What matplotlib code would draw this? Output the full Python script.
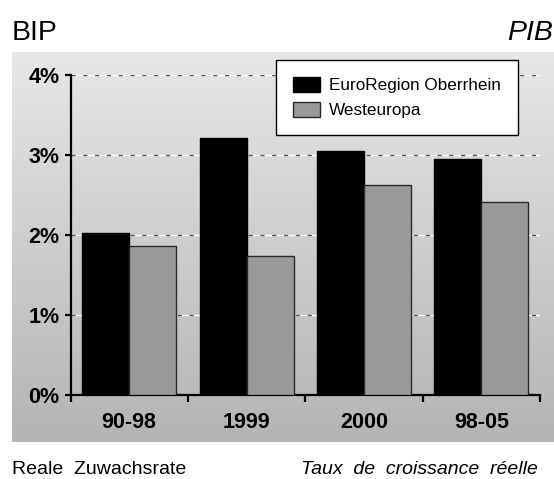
import numpy as np
import matplotlib
matplotlib.use('Agg')
import matplotlib.pyplot as plt
from matplotlib.colors import LinearSegmentedColormap

categories = ['90-98', '1999', '2000', '98-05']
euro = [2.03, 3.21, 3.05, 2.95]
west = [1.86, 1.74, 2.62, 2.41]
yticks = [0, 1, 2, 3, 4]
ytick_labels = ['0%', '1%', '2%', '3%', '4%']
series_names = ['EuroRegion Oberrhein', 'Westeuropa']

plt.rcParams['font.family'] = ['Liberation Sans', 'DejaVu Sans']

W, H = 554, 479
fig = plt.figure(figsize=(W / 100, H / 100), dpi=100)
fig.patch.set_facecolor('white')

# gradient panel background
bg = fig.add_axes([12 / W, (H - 442) / H, (W - 12 + 6) / W, (442 - 52) / H])
grad = np.linspace(0, 1, 256).reshape(-1, 1)
cmap = LinearSegmentedColormap.from_list('g', ['#e7e7e7', '#b4b4b4'])
bg.imshow(grad, aspect='auto', cmap=cmap, extent=[0, 1, 0, 1], origin='upper')
bg.axis('off')

ax = fig.add_axes([70.5 / W, (H - 395) / H, (540 - 70.5) / W, (395 - 75) / H])
ax.set_facecolor('none')

x = np.arange(len(categories))
w = 0.4
ax.bar(x - w / 2, euro, w, color='black', edgecolor='black', lw=1, zorder=3, label=series_names[0])
ax.bar(x + w / 2, west, w, color='#999999', edgecolor='#2a2a2a', lw=1, zorder=3, label=series_names[1])

for yv in yticks[1:]:
    ax.axhline(yv, color='white', lw=1, zorder=1)
    ax.axhline(yv, color='#555555', lw=1, dashes=(3, 5.5), zorder=2)

ax.set_xlim(-0.5, len(categories) - 0.5)
ax.set_ylim(0, 4)
for s in ['top', 'right']:
    ax.spines[s].set_visible(False)
for s in ['left', 'bottom']:
    ax.spines[s].set_linewidth(1.6)
    ax.spines[s].set_color('black')

ax.set_yticks(yticks, ytick_labels)
ax.tick_params(axis='y', direction='out', length=4, width=1.6, pad=4,
               labelsize=15.5)
for t in ax.get_yticklabels():
    t.set_fontweight('bold')

ax.set_xticks(np.arange(len(categories) + 1) - 0.5, [''] * (len(categories) + 1))
ax.tick_params(axis='x', which='major', direction='out', length=5, width=1.6)
ax.set_xticks(x, categories, minor=True)
ax.tick_params(axis='x', which='minor', length=0, pad=12, labelsize=15.5)
for t in ax.get_xticklabels(minor=True):
    t.set_fontweight('bold')

leg = ax.legend(loc='upper left', bbox_to_anchor=(276 / W, (H - 60) / H),
                bbox_transform=fig.transFigure, frameon=True, fancybox=False,
                edgecolor='black', framealpha=1, borderaxespad=0, fontsize=12.3,
                handlelength=1.6, handleheight=0.95, handletextpad=0.5,
                borderpad=1.0, labelspacing=0.5)
leg.get_frame().set_linewidth(1.0)
leg.set_zorder(10)

fig.text(12 / W, 1 - 40 / H, 'BIP', fontsize=20.5, va='baseline', ha='left')
fig.text(553 / W, 1 - 40 / H, 'PIB', fontsize=20.5, va='baseline', ha='right', style='italic')
fig.text(12 / W, 1 - 474 / H, 'Reale  Zuwachsrate', fontsize=14, va='baseline', ha='left')
fig.text(301 / W, 1 - 474 / H, 'Taux  de  croissance  réelle', fontsize=14,
         va='baseline', ha='left', style='italic')

fig.savefig('out.png', dpi=100)
